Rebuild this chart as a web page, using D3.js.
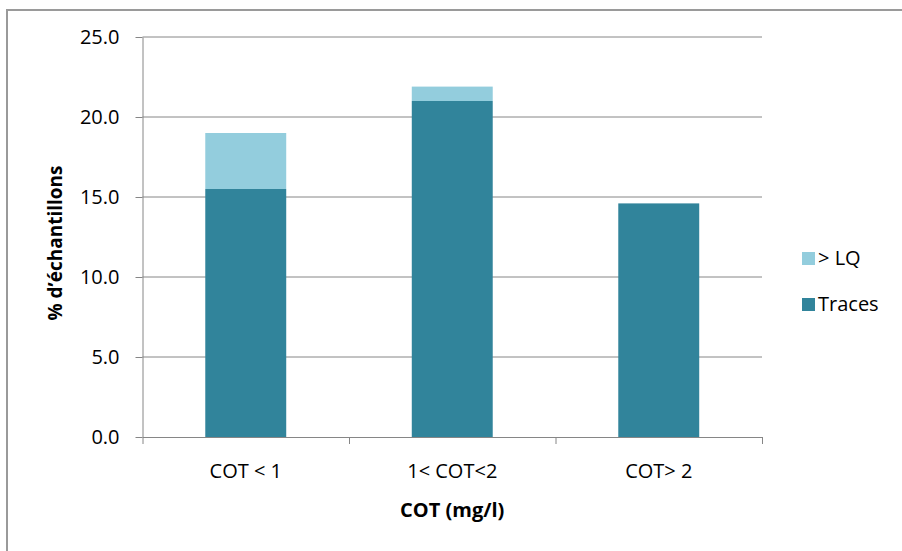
<!DOCTYPE html>
<meta charset="utf-8">
<html>
<head>
<style>
    body { margin: 0; background: #fff; }
    svg text { font-family: "Open Sans", sans-serif; fill: #000; }
    .axis path, .axis line { stroke: #868686; }
    .grid line { stroke: #868686; }
</style>
</head>
<body>
<svg width="902" height="551" id="chart-area"></svg>
<script src="https://d3js.org/d3.v7.min.js"></script>
<script>
    // data
    var categories = ["COT < 1", "1< COT<2", "COT> 2"];
    var traces = [15.5, 21.0, 14.6];
    var overLQ = [3.5, 0.9, 0];
    var yTicks = [0, 5, 10, 15, 20, 25];
    var seriesNames = ["Traces", "> LQ"];
    var colors = { "Traces": "#31849b", "> LQ": "#93cddd" };

    var rows = categories.map(function (c, i) {
        return { cat: c, "Traces": traces[i], "> LQ": overLQ[i] };
    });

    var svg = d3.select("svg"),
        plotLeft = 142.5, plotRight = 762, plotTop = 37, plotBottom = 437;

    // outer frame (cut by the picture on right and bottom)
    svg.append("rect")
        .attr("x", 7).attr("y", 10)
        .attr("width", 1000).attr("height", 1000)
        .attr("fill", "none")
        .attr("stroke", "#9a9a9a")
        .attr("stroke-width", 2);

    var pad = 0.608;
    var x = d3.scaleBand().domain(categories).range([plotLeft, plotRight])
        .paddingInner(pad).paddingOuter(pad / 2);
    var y = d3.scaleLinear().domain([0, 25]).range([plotBottom, plotTop]);

    /* gridlines */
    svg.append("g").attr("class", "grid")
        .selectAll("line")
        .data(yTicks.filter(function (d) { return d > 0; }))
        .enter().append("line")
        .attr("x1", plotLeft).attr("x2", plotRight)
        .attr("y1", function (d) { return y(d); })
        .attr("y2", function (d) { return y(d); });

    /* stacked bars */
    var stack = d3.stack().keys(seriesNames)(rows);
    svg.append("g").selectAll("g")
        .data(stack)
        .enter().append("g")
        .attr("fill", function (s) { return colors[s.key]; })
        .selectAll("rect")
        .data(function (s) { return s; })
        .enter().append("rect")
        .attr("x", function (d) { return x(d.data.cat); })
        .attr("width", x.bandwidth())
        .attr("y", function (d) { return y(d[1]); })
        .attr("height", function (d) { return y(d[0]) - y(d[1]); });

    /* y axis */
    var yAxis = svg.append("g")
        .attr("class", "axis")
        .attr("transform", "translate(" + plotLeft + ",0)")
        .call(d3.axisLeft(y).tickValues(yTicks).tickFormat(d3.format(".1f"))
            .tickSize(7).tickSizeOuter(0).tickPadding(16));
    yAxis.selectAll("text").style("font-size", "20px");

    /* x axis: boundary ticks */
    var xb = d3.scaleLinear().domain([0, categories.length]).range([plotLeft, plotRight]);
    svg.append("g")
        .attr("class", "axis")
        .attr("transform", "translate(0," + plotBottom + ")")
        .call(d3.axisBottom(xb).tickValues(d3.range(categories.length + 1))
            .tickSize(7).tickSizeOuter(0).tickFormat(""));

    /* x axis: category labels */
    var xAxis = svg.append("g")
        .attr("transform", "translate(0," + plotBottom + ")")
        .call(d3.axisBottom(x).tickSize(0));
    xAxis.select(".domain").remove();
    xAxis.selectAll("text")
        .attr("y", 41).attr("dy", 0)
        .style("font-size", "20px");

    /* axis titles */
    svg.append("text")
        .attr("x", (plotLeft + plotRight) / 2).attr("y", 517)
        .attr("text-anchor", "middle")
        .style("font-size", "20px").style("font-weight", "bold")
        .text("COT (mg/l)");

    svg.append("text")
        .attr("transform", "translate(62,243) rotate(-90)")
        .attr("text-anchor", "middle")
        .style("font-size", "19px").style("font-weight", "bold")
        .text("% d\u2019\u00e9chantillons");

    /* legend */
    var legend = svg.append("g").selectAll("g")
        .data(seriesNames.slice().reverse())
        .enter().append("g")
        .attr("transform", function (d, i) { return "translate(802," + (252 + i * 46) + ")"; });
    legend.append("rect")
        .attr("width", 13).attr("height", 13)
        .attr("fill", function (d) { return colors[d]; });
    legend.append("text")
        .attr("x", 16).attr("y", 13)
        .style("font-size", "20px")
        .text(function (d) { return d; });
</script>
</body>
</html>
